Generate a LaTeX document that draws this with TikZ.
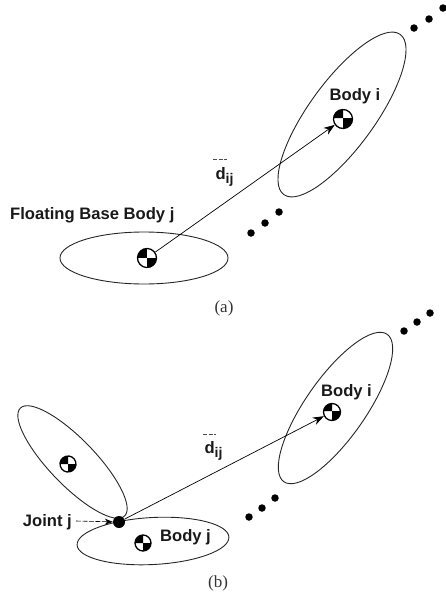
\documentclass[tikz,border=0pt]{standalone}
\usepackage{fontspec}
\setmainfont{Liberation Serif}
\newfontfamily\labelfont{Liberation Sans}[BoldFont={Liberation Sans Bold}]
\usetikzlibrary{arrows.meta,shapes.geometric,calc}
\tikzset{
  body/.style={draw=black!85,line width=0.9pt,ellipse,inner sep=0pt,fill=none},
  com/.style={circle,draw=black,line width=1.3pt,minimum size=#1,inner sep=0pt,
    path picture={
      \fill[black] (path picture bounding box.center) -- (path picture bounding box.north) -- (path picture bounding box.north west) -- (path picture bounding box.west) -- cycle;
      \fill[black] (path picture bounding box.center) -- (path picture bounding box.south) -- (path picture bounding box.south east) -- (path picture bounding box.east) -- cycle;
    }},
  dot/.style={circle,fill=black,minimum size=7.5pt,inner sep=0pt},
  lab/.style={font=\labelfont\bfseries\fontsize{16.6}{19}\selectfont,inner sep=0pt,text=black!90},
  subcap/.style={font=\fontsize{17}{20}\selectfont,inner sep=0pt,text=black!80},
  vec/.style={draw=black,line width=0.7pt,-{Stealth[length=11pt,width=8pt]}},
  barline/.style={draw=black!70,line width=0.7pt,dash pattern=on 4pt off 1.5pt},
}
\newcommand{\dijtext}{d\raisebox{-4pt}{\fontsize{14}{16}\selectfont ij}}
\begin{document}
\begin{tikzpicture}[x=1pt,y=-1pt]
\useasboundingbox (0,0) rectangle (446,600);
% ---------- (a)
\node[body,minimum width=198pt,minimum height=66pt,rotate=54] (bodyia) at (342,114.5) {};
\node[body,minimum width=168pt,minimum height=52pt] (bodyja) at (144,258) {};
\node[com=19pt,rotate=-20] (comia) at (343,119) {};
\node[com=19pt,rotate=20] (comja) at (147,258) {};
\draw[vec] (comja) -- (comia);
\node[lab] (tia) at (355,96) {Body i};
\node[lab,anchor=west] (tja) at (10,215.5) {Floating Base Body j};
\node[lab] (dija) at (224.5,177) {\dijtext};
\coordinate (b1a) at (213,159.5); \coordinate (b2a) at (227,159.5);
\draw[barline] (b1a) -- (b2a);
\foreach \n/\x/\y in {a1/414/28,a2/429/19,a3/443/8,a4/251/233,a5/265/223,a6/279/212}
  \node[dot] (\n) at (\x,\y) {};
\node[subcap] (capa) at (224,308) {(a)};
% ---------- (b)
\node[body,minimum width=180pt,minimum height=60pt,rotate=55] (bodyib) at (335.5,408) {};
\node[body,minimum width=152pt,minimum height=47pt,rotate=3] (bodyjb) at (153,541) {};
\node[body,minimum width=150pt,minimum height=46pt,rotate=-46] (bodyl) at (72.5,462) {};
\node[com=16pt,rotate=15] (coml) at (68,464) {};
\node[com=16pt,rotate=45] (comjb) at (143,543) {};
\node[com=17pt,rotate=-20] (comib) at (332,412) {};
\node[dot,minimum size=12pt] (joint) at (119,522) {};
\draw[vec] (joint) -- (comib);
\node[lab] (tib) at (346.5,392) {Body i};
\node[lab] (tjb) at (185.5,537) {Body j};
\node[lab,anchor=east] (tjoint) at (72,522) {Joint j};
\draw[draw=black,line width=0.6pt,dash pattern=on 5pt off 1.5pt,-{Stealth[length=8pt,width=6pt]}] (tjoint.east) ++(4,-1) coordinate (js) -- (joint);
\node[lab] (dijb) at (213.5,451) {\dijtext};
\coordinate (b1b) at (203,434.5); \coordinate (b2b) at (216,434.5);
\draw[barline] (b1b) -- (b2b);
\foreach \n/\x/\y in {b1/404/331,b2/417/322,b3/430/313,b4/249/517,b5/262/508,b6/275/498}
  \node[dot] (\n) at (\x,\y) {};
\node[subcap] (capb) at (218,583) {(b)};
\end{tikzpicture}
\end{document}
